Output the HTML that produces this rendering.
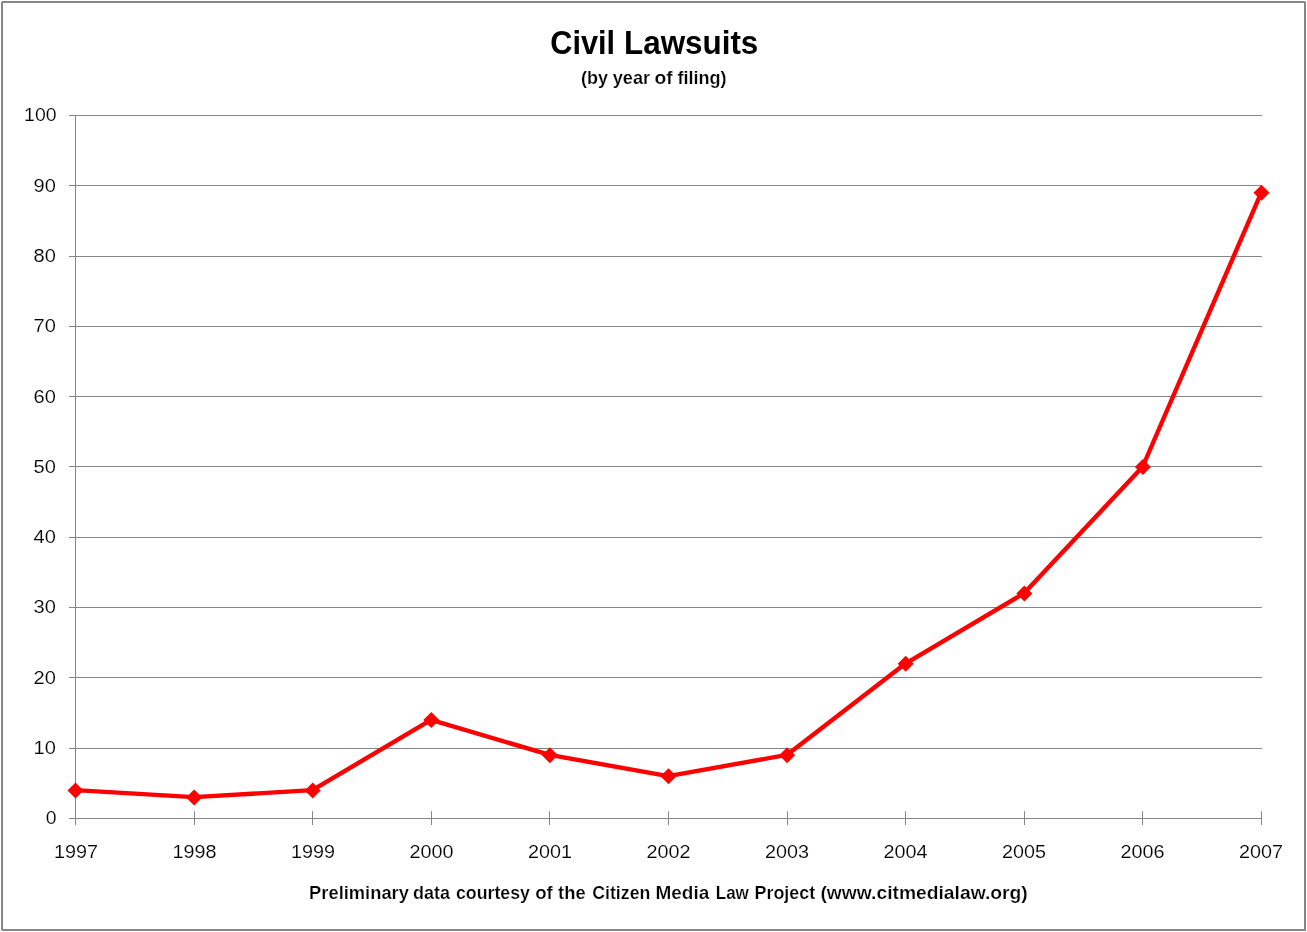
<!DOCTYPE html>
<html lang="en">
<head>
<meta charset="utf-8">
<title>Civil Lawsuits (by year of filing)</title>
<style>
html,body{margin:0;padding:0;background:#fff;}
body{width:1307px;height:932px;overflow:hidden;}
svg{display:block;}
text{font-family:"Liberation Sans",sans-serif;fill:#000;}
.b{font-weight:bold;}
.s{stroke:#fff;stroke-width:0.22px;paint-order:fill stroke;}
.t{font-size:18.6px;stroke:#fff;stroke-width:0.15px;paint-order:fill stroke;}
</style>
</head>
<body>
<svg width="1307" height="932" viewBox="0 0 1307 932">
<rect x="0" y="0" width="1307" height="932" fill="#fff"/>
<rect x="2" y="2" width="1303" height="928" rx="0.7" ry="0.7" fill="none" stroke="#868686" stroke-width="2"/>
<rect x="1305" y="930" width="1" height="1" fill="#868686"/>

<g stroke="#868686" stroke-width="1" shape-rendering="crispEdges">
<line x1="69" y1="818.5" x2="1262" y2="818.5"/>
<line x1="69" y1="748.5" x2="1262" y2="748.5"/>
<line x1="69" y1="677.5" x2="1262" y2="677.5"/>
<line x1="69" y1="607.5" x2="1262" y2="607.5"/>
<line x1="69" y1="537.5" x2="1262" y2="537.5"/>
<line x1="69" y1="466.5" x2="1262" y2="466.5"/>
<line x1="69" y1="396.5" x2="1262" y2="396.5"/>
<line x1="69" y1="326.5" x2="1262" y2="326.5"/>
<line x1="69" y1="256.5" x2="1262" y2="256.5"/>
<line x1="69" y1="185.5" x2="1262" y2="185.5"/>
<line x1="69" y1="115.5" x2="1262" y2="115.5"/>
<line x1="75.5" y1="115" x2="75.5" y2="825"/>
<line x1="194.5" y1="812" x2="194.5" y2="825"/>
<line x1="194.5" y1="811" x2="194.5" y2="812" stroke="#9c9c9c"/>
<line x1="312.5" y1="812" x2="312.5" y2="825"/>
<line x1="312.5" y1="811" x2="312.5" y2="812" stroke="#9c9c9c"/>
<line x1="431.5" y1="812" x2="431.5" y2="825"/>
<line x1="431.5" y1="811" x2="431.5" y2="812" stroke="#9c9c9c"/>
<line x1="549.5" y1="812" x2="549.5" y2="825"/>
<line x1="549.5" y1="811" x2="549.5" y2="812" stroke="#9c9c9c"/>
<line x1="668.5" y1="812" x2="668.5" y2="825"/>
<line x1="668.5" y1="811" x2="668.5" y2="812" stroke="#9c9c9c"/>
<line x1="787.5" y1="812" x2="787.5" y2="825"/>
<line x1="787.5" y1="811" x2="787.5" y2="812" stroke="#9c9c9c"/>
<line x1="905.5" y1="812" x2="905.5" y2="825"/>
<line x1="905.5" y1="811" x2="905.5" y2="812" stroke="#9c9c9c"/>
<line x1="1024.5" y1="812" x2="1024.5" y2="825"/>
<line x1="1024.5" y1="811" x2="1024.5" y2="812" stroke="#9c9c9c"/>
<line x1="1142.5" y1="812" x2="1142.5" y2="825"/>
<line x1="1142.5" y1="811" x2="1142.5" y2="812" stroke="#9c9c9c"/>
<line x1="1261.5" y1="812" x2="1261.5" y2="825"/>
<line x1="1261.5" y1="811" x2="1261.5" y2="812" stroke="#9c9c9c"/>
</g>
<polyline fill="none" stroke="#ff0000" stroke-width="4.4" transform="translate(-0.25,-0.25)" stroke-linejoin="round" stroke-linecap="round" points="75.5,790.4 194.1,797.4 312.7,790.4 431.3,720.1 549.9,755.2 668.5,776.3 787.1,755.2 905.7,663.8 1024.3,593.5 1142.9,467.0 1261.5,192.8"/>
<g fill="#ff0000">
<path d="M75.5 782.4L83.5 790.4L75.5 798.4L67.5 790.4Z"/>
<path d="M194.1 789.4L202.1 797.4L194.1 805.4L186.1 797.4Z"/>
<path d="M312.7 782.4L320.7 790.4L312.7 798.4L304.7 790.4Z"/>
<path d="M431.3 712.1L439.3 720.1L431.3 728.1L423.3 720.1Z"/>
<path d="M549.9 747.2L557.9 755.2L549.9 763.2L541.9 755.2Z"/>
<path d="M668.5 768.3L676.5 776.3L668.5 784.3L660.5 776.3Z"/>
<path d="M787.1 747.2L795.1 755.2L787.1 763.2L779.1 755.2Z"/>
<path d="M905.7 655.8L913.7 663.8L905.7 671.8L897.7 663.8Z"/>
<path d="M1024.3 585.5L1032.3 593.5L1024.3 601.5L1016.3 593.5Z"/>
<path d="M1142.9 459.0L1150.9 467.0L1142.9 475.0L1134.9 467.0Z"/>
<path d="M1261.5 184.8L1269.5 192.8L1261.5 200.8L1253.5 192.8Z"/>
</g>
<g class="t" text-anchor="end">
<text x="56.6" y="824.0" textLength="10.8" lengthAdjust="spacingAndGlyphs">0</text>
<text x="55.9" y="754.1" textLength="22.3" lengthAdjust="spacingAndGlyphs">10</text>
<text x="55.9" y="684.0" textLength="22.3" lengthAdjust="spacingAndGlyphs">20</text>
<text x="55.9" y="613.3" textLength="22.3" lengthAdjust="spacingAndGlyphs">30</text>
<text x="55.9" y="543.2" textLength="22.3" lengthAdjust="spacingAndGlyphs">40</text>
<text x="55.9" y="473.1" textLength="22.3" lengthAdjust="spacingAndGlyphs">50</text>
<text x="55.9" y="403.2" textLength="22.3" lengthAdjust="spacingAndGlyphs">60</text>
<text x="55.9" y="332.2" textLength="22.3" lengthAdjust="spacingAndGlyphs">70</text>
<text x="55.9" y="262.1" textLength="22.3" lengthAdjust="spacingAndGlyphs">80</text>
<text x="55.9" y="191.9" textLength="22.3" lengthAdjust="spacingAndGlyphs">90</text>
<text x="56.6" y="120.9" textLength="32.5" lengthAdjust="spacingAndGlyphs">100</text>
</g>
<g class="t" text-anchor="middle">
<text x="75.9" y="858" textLength="44.0" lengthAdjust="spacingAndGlyphs">1997</text>
<text x="194.4" y="858" textLength="44.0" lengthAdjust="spacingAndGlyphs">1998</text>
<text x="312.9" y="858" textLength="44.0" lengthAdjust="spacingAndGlyphs">1999</text>
<text x="431.4" y="858" textLength="44.0" lengthAdjust="spacingAndGlyphs">2000</text>
<text x="549.9" y="858" textLength="44.0" lengthAdjust="spacingAndGlyphs">2001</text>
<text x="668.4" y="858" textLength="44.0" lengthAdjust="spacingAndGlyphs">2002</text>
<text x="786.9" y="858" textLength="44.0" lengthAdjust="spacingAndGlyphs">2003</text>
<text x="905.4" y="858" textLength="44.0" lengthAdjust="spacingAndGlyphs">2004</text>
<text x="1023.9" y="858" textLength="44.0" lengthAdjust="spacingAndGlyphs">2005</text>
<text x="1142.4" y="858" textLength="44.0" lengthAdjust="spacingAndGlyphs">2006</text>
<text x="1260.9" y="858" textLength="44.0" lengthAdjust="spacingAndGlyphs">2007</text>
</g>
<text class="b" y="54" font-size="33.2"><tspan x="550.27" textLength="64.81" lengthAdjust="spacingAndGlyphs">Civil</tspan> <tspan x="624.02" textLength="134.32" lengthAdjust="spacingAndGlyphs">Lawsuits</tspan></text>
<text class="b s" y="83.5" font-size="18.6"><tspan x="580.98" textLength="26.95" lengthAdjust="spacingAndGlyphs">(by</tspan> <tspan x="612.70" textLength="37.37" lengthAdjust="spacingAndGlyphs">year</tspan> <tspan x="654.62" textLength="18.14" lengthAdjust="spacingAndGlyphs">of</tspan> <tspan x="677.42" textLength="49.16" lengthAdjust="spacingAndGlyphs">filing)</tspan></text>
<text class="b s" y="898.7" font-size="18.3"><tspan x="309.10" textLength="99.83" lengthAdjust="spacingAndGlyphs">Preliminary</tspan> <tspan x="412.98" textLength="36.97" lengthAdjust="spacingAndGlyphs">data</tspan> <tspan x="455.97" textLength="73.96" lengthAdjust="spacingAndGlyphs">courtesy</tspan> <tspan x="535.24" textLength="17.53" lengthAdjust="spacingAndGlyphs">of</tspan> <tspan x="558.12" textLength="27.57" lengthAdjust="spacingAndGlyphs">the</tspan> <tspan x="592.19" textLength="58.19" lengthAdjust="spacingAndGlyphs">Citizen</tspan> <tspan x="655.46" textLength="53.78" lengthAdjust="spacingAndGlyphs">Media</tspan> <tspan x="715.78" textLength="33.08" lengthAdjust="spacingAndGlyphs">Law</tspan> <tspan x="754.53" textLength="60.63" lengthAdjust="spacingAndGlyphs">Project</tspan> <tspan x="820.43" textLength="207.30" lengthAdjust="spacingAndGlyphs">(www.citmedialaw.org)</tspan></text>
</svg>
</body>
</html>
